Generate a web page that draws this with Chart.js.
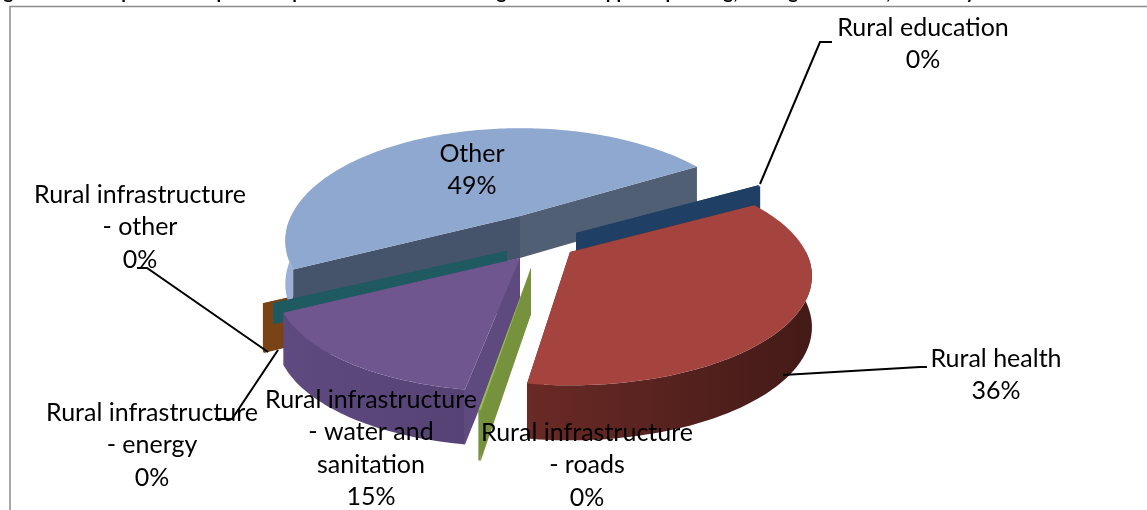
<!DOCTYPE html>
<html>
<head>
<meta charset="utf-8">
<style>
  html, body { margin: 0; padding: 0; background: #fff; overflow: hidden; }
  canvas { display: block; }
</style>
<script src="https://cdn.jsdelivr.net/npm/chart.js@4"></script>
</head>
<body>
<canvas id="pieChart" width="1147" height="510"></canvas>
<script>
const titleText = "Figure 2.1: Composition of public expenditures in rural and agricultural support spending, average 2006-08, in last 3 years";
const categories = [
  "Rural education",
  "Rural health",
  "Rural infrastructure - roads",
  "Rural infrastructure - water and sanitation",
  "Rural infrastructure - energy",
  "Rural infrastructure - other",
  "Other",
];
const shares = [0.2, 35.6, 0.1, 14.8, 0.2, 0.2, 48.9];
const labelLines = [
  ["Rural education"],
  ["Rural health"],
  ["Rural infrastructure", "- roads"],
  ["Rural infrastructure", "- water and", "sanitation"],
  ["Rural infrastructure", "- energy"],
  ["Rural infrastructure", "- other"],
  ["Other"],
];
const topColors = ["#1f4064", "#a5443f", "#9bbb59", "#70568f", "#7a4316", "#1e5a60", "#8fa8d0"];

// view of the 3D pie
const pieCenter = [535, 240];
const tiltX = 1.18;
const tiltY = 0.52;
const persp = 0.22;
// how far each slice is pulled out, on screen
const sliceShift = [[41, -7], [35, 12], [-4, 28], [-15, 18], [-39, 10], [-28, 11], [-15, -24]];
// x scale, y scale, x skew per slice (rough fix for the excel perspective)
const sliceWarp = [[1, 1, 0], [1, 1, 0], [1.17, 1.08, 0], [1, 1, -0.078], [1, 1, 0], [1, 1, 0], [0.97, 1.03, 0]];
const sliceDepth = [48, 50, 46, 50, 46, 19, 42];
const startWall = ["#1f4064", "#5c2522", "#76923c", "#5f4a80", "#7a4316", "#1e5a60", "#45546b"];
const endWall = ["#1f4064", "#5c2522", "#76923c", "#5f4a80", "#7a4316", "#1e5a60", "#515f75"];
const outerWall = [
  ["#1f4064", "#1f4064"],
  ["#6a2a26", "#431a17"],
  ["#76923c", "#76923c"],
  ["#5f4a80", "#574275"],
  ["#7a4316", "#7a4316"],
  ["#1e5a60", "#1e5a60"],
  ["#9ab1d6", "#9ab1d6"],
];
const drawOrder = [4, 6, 0, 5, 3, 2, 1];

// label centre x and first line centre y, same order as categories
const labelPos = [[923, 28], [996, 359], [587, 433], [371, 400], [152, 413], [140, 195], [472, 154]];
const leaderLines = [
  [[760, 184], [820, 42], [832, 42]],
  [[783, 375], [920, 367], [927, 367]],
  [[268, 352], [147, 268], [137, 268]],
  [[278, 350], [232, 419], [215, 419]],
];

class Arc3D extends Chart.ArcElement {
  static id = "arc3d";
  point(angle, r, z) {
    const i = this.$context.dataIndex;
    const R = this.outerRadius;
    const [wx, wy, skew] = sliceWarp[i];
    const X = Math.cos(angle) * r;
    const Y = Math.sin(angle) * r;
    const f = 1 / (1 - persp * Y);
    const py = wy * tiltY * R * Y * f;
    return [
      pieCenter[0] + sliceShift[i][0] + wx * tiltX * R * X * f + skew * py,
      pieCenter[1] + sliceShift[i][1] + py + z * (1 + 0.1 * Y),
    ];
  }
  arcPoints(z, frontOnly) {
    const steps = Math.max(2, Math.ceil((this.endAngle - this.startAngle) / 0.02));
    const pts = [];
    for (let s = 0; s <= steps; s++) {
      const a = this.startAngle + ((this.endAngle - this.startAngle) * s) / steps;
      if (!frontOnly || Math.sin(a) >= -0.02) pts.push(this.point(a, 1, z));
    }
    return pts;
  }
  draw(ctx) {
    const i = this.$context.dataIndex;
    const depth = sliceDepth[i];
    const fillPoly = (pts, fill) => {
      ctx.beginPath();
      pts.forEach((p, n) => (n ? ctx.lineTo(p[0], p[1]) : ctx.moveTo(p[0], p[1])));
      ctx.closePath();
      ctx.fillStyle = fill;
      ctx.fill();
    };
    const plane = (angle) => [
      this.point(angle, 0, 0),
      this.point(angle, 1, 0),
      this.point(angle, 1, depth),
      this.point(angle, 0, depth),
    ];
    fillPoly(plane(this.startAngle), startWall[i]);
    fillPoly(plane(this.endAngle), endWall[i]);

    // only the part of the rim that faces the viewer gets a wall
    const front = this.arcPoints(0, true);
    if (front.length > 1) {
      const low = this.arcPoints(depth, true).reverse();
      const xs = front.map((p) => p[0]);
      const grad = ctx.createLinearGradient(Math.min(...xs), 0, Math.max(...xs), 0);
      grad.addColorStop(0, outerWall[i][0]);
      grad.addColorStop(1, outerWall[i][1]);
      fillPoly(front.concat(low), grad);
    }

    fillPoly([this.point(0, 0, 0), ...this.arcPoints(0, false)], this.options.backgroundColor);
  }
}

class Pie3DController extends Chart.PieController {
  static id = "pie3d";
  static defaults = { dataElementType: "arc3d" };
  draw() {
    const elements = this._cachedMeta.data;
    drawOrder.forEach((i) => elements[i].draw(this._ctx));
  }
}

Chart.register(Arc3D, Pie3DController);

const total = shares.reduce((sum, v) => sum + v, 0);

const framePlugin = {
  id: "frame",
  beforeDatasetsDraw(chart) {
    const ctx = chart.ctx;
    ctx.save();
    ctx.strokeStyle = "#8c8c8c";
    ctx.lineWidth = 1.5;
    ctx.beginPath();
    ctx.moveTo(10, 510);
    ctx.lineTo(10, 6.5);
    ctx.lineTo(1147, 6.5);
    ctx.stroke();
    ctx.fillStyle = "#000";
    ctx.font = "bold 19px Lato";
    ctx.textBaseline = "alphabetic";
    ctx.fillText(titleText, -12, -1);
    ctx.restore();
  },
  afterDatasetsDraw(chart) {
    const ctx = chart.ctx;
    ctx.save();
    ctx.strokeStyle = "#000";
    ctx.lineWidth = 2;
    leaderLines.forEach((line) => {
      ctx.beginPath();
      line.forEach((p, n) => (n ? ctx.lineTo(p[0], p[1]) : ctx.moveTo(p[0], p[1])));
      ctx.stroke();
    });
    ctx.fillStyle = "#000";
    ctx.font = "25px Lato";
    ctx.textAlign = "center";
    ctx.textBaseline = "middle";
    labelLines.forEach((lines, i) => {
      const pct = Math.round((shares[i] / total) * 100) + "%";
      lines.concat(pct).forEach((text, n) => {
        ctx.fillText(text, labelPos[i][0], labelPos[i][1] + n * 32.4);
      });
    });
    ctx.restore();
  },
};

new Chart(document.getElementById("pieChart").getContext("2d"), {
  type: "pie3d",
  data: {
    labels: categories,
    datasets: [
      {
        data: shares,
        backgroundColor: topColors,
        borderWidth: 0,
        radius: 200,
        rotation: 59.3,
      },
    ],
  },
  options: {
    responsive: false,
    animation: false,
    plugins: { legend: { display: false }, tooltip: { enabled: false } },
  },
  plugins: [framePlugin],
});
</script>
</body>
</html>
